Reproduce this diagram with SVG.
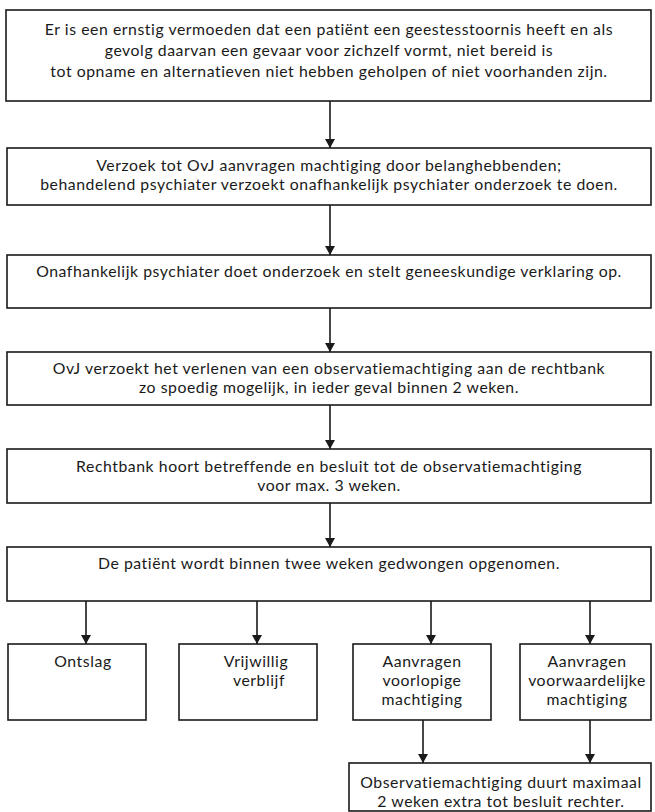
<svg xmlns="http://www.w3.org/2000/svg" width="655" height="812" viewBox="0 0 655 812">
  <style>
    .box { fill: #ffffff; stroke: #1a1a1a; stroke-width: 1.6; }
    .txt { font-family: Lato, "Open Sans", "DejaVu Sans", sans-serif; font-size: 15.8px; letter-spacing: 0.55px; fill: #1a1a1a; text-anchor: middle; }
    .conn { stroke: #1a1a1a; stroke-width: 1.6; fill: none; marker-end: url(#arrow); }
  </style>
  <defs>
    <marker id="arrow" markerWidth="10" markerHeight="10" refX="9" refY="5" orient="auto" markerUnits="userSpaceOnUse">
      <path d="M0,0 L9,5 L0,10 Z" fill="#1a1a1a"/>
    </marker>
  </defs>
  <rect width="655" height="812" fill="#ffffff"/>

  <g id="connectors">
    <line class="conn" x1="330" y1="101" x2="330" y2="148"/>
    <line class="conn" x1="330" y1="205" x2="330" y2="255"/>
    <line class="conn" x1="330" y1="308" x2="330" y2="352"/>
    <line class="conn" x1="330" y1="405" x2="330" y2="449"/>
    <line class="conn" x1="330" y1="503" x2="330" y2="547"/>
    <line class="conn" x1="86" y1="601" x2="86" y2="644"/>
    <line class="conn" x1="257" y1="601" x2="257" y2="644"/>
    <line class="conn" x1="431" y1="601" x2="431" y2="644"/>
    <line class="conn" x1="590" y1="601" x2="590" y2="644"/>
    <line class="conn" x1="423" y1="720" x2="423" y2="763"/>
    <line class="conn" x1="590" y1="720" x2="590" y2="763"/>
  </g>

  <g id="n1">
    <rect class="box" x="6" y="10" width="645" height="91"/>
    <text class="txt" x="329" y="35">Er is een ernstig vermoeden dat een patiënt een geestesstoornis heeft en als</text>
    <text class="txt" x="329" y="56">gevolg daarvan een gevaar voor zichzelf vormt, niet bereid is</text>
    <text class="txt" x="329" y="77">tot opname en alternatieven niet hebben geholpen of niet voorhanden zijn.</text>
  </g>
  <g id="n2">
    <rect class="box" x="7" y="148" width="644" height="57"/>
    <text class="txt" x="329" y="171">Verzoek tot OvJ aanvragen machtiging door belanghebbenden;</text>
    <text class="txt" x="329" y="190">behandelend psychiater verzoekt onafhankelijk psychiater onderzoek te doen.</text>
  </g>
  <g id="n3">
    <rect class="box" x="7" y="255" width="644" height="53"/>
    <text class="txt" x="329" y="277">Onafhankelijk psychiater doet onderzoek en stelt geneeskundige verklaring op.</text>
  </g>
  <g id="n4">
    <rect class="box" x="7" y="352" width="644" height="53"/>
    <text class="txt" x="329" y="374">OvJ verzoekt het verlenen van een observatiemachtiging aan de rechtbank</text>
    <text class="txt" x="329" y="393">zo spoedig mogelijk, in ieder geval binnen 2 weken.</text>
  </g>
  <g id="n5">
    <rect class="box" x="7" y="449" width="644" height="54"/>
    <text class="txt" x="329" y="472">Rechtbank hoort betreffende en besluit tot de observatiemachtiging</text>
    <text class="txt" x="329" y="491">voor max. 3 weken.</text>
  </g>
  <g id="n6">
    <rect class="box" x="7" y="547" width="644" height="54"/>
    <text class="txt" x="329" y="569">De patiënt wordt binnen twee weken gedwongen opgenomen.</text>
  </g>
  <g id="ontslag">
    <rect class="box" x="8" y="644" width="138" height="76"/>
    <text class="txt" x="83" y="667">Ontslag</text>
  </g>
  <g id="vrijwillig">
    <rect class="box" x="179" y="644" width="138" height="76"/>
    <text class="txt" x="256" y="667">Vrijwillig</text>
    <text class="txt" x="259" y="686">verblijf</text>
  </g>
  <g id="voorlopig">
    <rect class="box" x="353" y="644" width="138" height="76"/>
    <text class="txt" x="422" y="667">Aanvragen</text>
    <text class="txt" x="422" y="686">voorlopige</text>
    <text class="txt" x="422" y="705">machtiging</text>
  </g>
  <g id="voorwaardelijk">
    <rect class="box" x="520" y="644" width="131" height="76"/>
    <text class="txt" x="587" y="667">Aanvragen</text>
    <text class="txt" x="587" y="686">voorwaardelijke</text>
    <text class="txt" x="587" y="705">machtiging</text>
  </g>
  <g id="observatie">
    <rect class="box" x="349" y="763" width="302" height="48"/>
    <text class="txt" x="501" y="788">Observatiemachtiging duurt maximaal</text>
    <text class="txt" x="501" y="807">2 weken extra tot besluit rechter.</text>
  </g>
</svg>
